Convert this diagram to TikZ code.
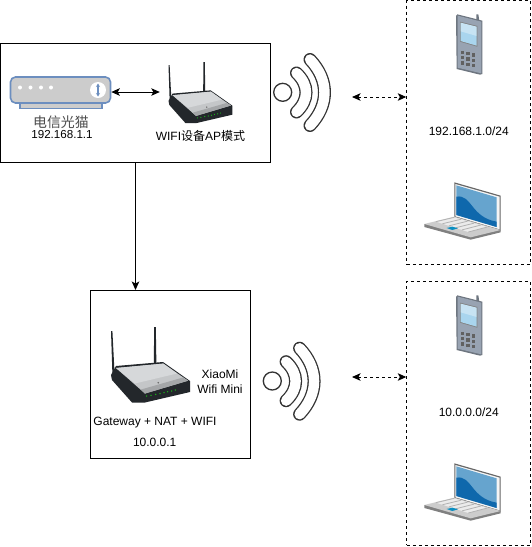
\documentclass[tikz,border=0pt]{standalone}
\usepackage{fontspec}
\setmainfont{Liberation Sans}
\newfontfamily\cjk{Noto Sans CJK SC}
\usetikzlibrary{arrows.meta}
\definecolor{modemline}{HTML}{6C8EBF}
\definecolor{modemfill}{HTML}{CCCCCC}
\definecolor{routerdark}{HTML}{23272B}
\definecolor{routertop}{HTML}{C4C6C8}
\definecolor{routerlight}{HTML}{D6D8DA}
\definecolor{routershade}{HTML}{A4A6A8}
\definecolor{wifiline}{HTML}{333333}
\definecolor{phonebody}{HTML}{98A3B2}
\definecolor{phonedark}{HTML}{6E7680}
\definecolor{screenlight}{HTML}{A9D5EE}
\definecolor{lapblue}{HTML}{66A4CE}
\definecolor{lapdeep}{HTML}{0F68AC}
\tikzset{
  framebox/.style={draw=black,line width=1pt,fill=white,inner sep=0pt},
  lanbox/.style={draw=black,line width=.9pt,dash pattern=on 3pt off 3pt,fill=white,inner sep=0pt},
  lbl/.style={font=\fontsize{12}{14}\selectfont,text=black,inner sep=0pt,align=center},
  place/.style={inner sep=0pt},
  solidlink/.style={draw=black,line width=1pt,-{Stealth[length=8.5pt,width=7.5pt,inset=2pt]}},
  bothlink/.style={draw=black,line width=1pt,{Stealth[length=8.5pt,width=7.5pt,inset=2pt]}-{Stealth[length=8.5pt,width=7.5pt,inset=2pt]}},
  lanlink/.style={draw=black,line width=1pt,dash pattern=on 3pt off 3pt,{Stealth[length=8.5pt,width=7.5pt,inset=2pt]}-{Stealth[length=8.5pt,width=7.5pt,inset=2pt]}},
  routerpic/.pic={
    \fill[routerdark] (0,4) -- (1.4,4) -- (3.6,47) -- (1.4,47) -- cycle;
    \fill[routerdark] (43.2,0) -- (44.8,0) -- (45.4,37) -- (42.8,37) -- cycle;
    \fill[routerdark] (0,48) -- (5,39) -- (52,35) -- (79,54) -- (79,65) -- (34,75.5) -- (21,75.5) -- (1,53) -- cycle;
    \fill[routertop] (5,41) -- (52.3,36.6) -- (77,53.7) -- (34,66.5) -- cycle;
    \fill[routerlight] (5,41) -- (52.3,36.6) -- (66,46.5) -- (24,56.5) -- cycle;
    \fill[routershade] (34,66.5) -- (77,53.7) -- (72,50.5) -- (30,62.5) -- cycle;
    \fill[black!60] (47.3,55.7) circle (.9);
    \foreach \lx/\ly in {35.7/69,40/68.3,44.7/67.3,49/66.7,53/65.7,56.7/64.7,60.7/64,64.3/63}
      \fill[green!70!black!90] (\lx,\ly) circle (.75);
  },
  phonepic/.pic={
    \fill[phonedark] (229,60) -- (229,43) -- (235,43) -- (238,62) -- cycle;
    \fill[phonedark] (172,43) -- (247,62) -- (247,222) -- (240,224) -- (170,207) -- (168,48) -- cycle;
    \fill[phonebody] (173,47) -- (244,65) -- (244,220) -- (173,203) -- cycle;
    \fill[black!50] (180,65) -- (232,78) -- (232,140) -- (180,125) -- cycle;
    \fill[screenlight] (182,68) -- (230,80) -- (230,137) -- (182,123) -- cycle;
    \fill[white,opacity=.35] (182,68) -- (230,80) -- (230,108) -- (182,94) -- cycle;
    \foreach \kx in {188,204,220}
      \foreach \ky in {157,173,189}
        \fill[black!62] ({\kx-5},{\ky+(\kx-188)*.25-5}) rectangle ++(10,10);
  },
  laptoppic/.pic={
    \fill[black!60] (163,547) -- (302,587) -- (302,692) -- (163,652) -- cycle;
    \fill[black!4] (166,552) -- (299,590) -- (299,688) -- (166,649) -- cycle;
    \fill[lapblue] (169,556) -- (290,592) -- (290,681) -- (169,645) -- cycle;
    \fill[lapdeep] (169,590) .. controls (216,582) and (212,652) .. (290,665) -- (290,681) -- (169,645) -- cycle;
    \fill[black!50] (73,672) -- (73,681) -- (212,719) -- (302,697) -- (302,690) -- cycle;
    \fill[black!20] (73,672) -- (163,650) -- (302,690) -- (212,712) -- cycle;
    \fill[black!8] (108,665) -- (163,652) -- (262,681) -- (205,696) -- cycle;
    \foreach \t in {0,.2,.4,.6,.8,1}
      \draw[black!30,line width=.8pt] ({108+\t*97},{665+\t*31}) -- ({163+\t*99},{652+\t*29});
    \fill[lapdeep!75!cyan] (140,684) -- (157,680) -- (174,685) -- (157,690) -- cycle;
  },
  wifipic/.pic={
    \draw[wifiline,line width=1.3pt,fill=white] (0,0) circle (9);
    \draw[wifiline,line width=13pt,line cap=round] (13.8,-19.3) .. controls (26.5,-7.3) and (26.5,7.7) .. (13.8,19.7);
    \draw[white,line width=10.4pt,line cap=round] (13.8,-19.3) .. controls (26.5,-7.3) and (26.5,7.7) .. (13.8,19.7);
    \draw[wifiline,line width=13pt,line cap=round] (27.3,-32.8) .. controls (46.6,-12.3) and (46.6,12.7) .. (27.3,33.2);
    \draw[white,line width=10.4pt,line cap=round] (27.3,-32.8) .. controls (46.6,-12.3) and (46.6,12.7) .. (27.3,33.2);
  }
}
\begin{document}
\begin{tikzpicture}[x=1pt,y=-1pt]
\useasboundingbox (0,0) rectangle (531,547);
\fill[white] (0,0) rectangle (531,547);

% frames
\node[framebox,minimum width=270pt,minimum height=119pt] (gatewaybox) at (135.5,102.5) {};
\node[framebox,minimum width=160pt,minimum height=168pt] (minibox) at (170,374.5) {};
\node[lanbox,minimum width=123.5pt,minimum height=264pt] (lanA) at (468.5,132.5) {};
\node[lanbox,minimum width=123.5pt,minimum height=264pt] (lanB) at (468.5,413) {};

% modem
\fill[modemfill,draw=modemline,line width=1.2pt] (20,102) rectangle (102,108.5);
\node[draw=modemline,line width=1.6pt,fill=modemfill,rounded corners=5pt,minimum width=100pt,minimum height=26pt,inner sep=0pt] (modem) at (60.5,90) {};
\foreach \dx in {20,30.5,41,51} \fill[white] (\dx,87.5) circle (2);
\fill[white] (98,90) circle (8);
\draw[modemline,line width=1.4pt,{Stealth[length=3.5pt,width=4pt]}-{Stealth[length=3.5pt,width=4pt]}] (98,83.5) -- (98,96.5);
\node[lbl,font=\fontsize{13.9}{16}\cjk,text=black!70] (modemname) at (61,122) {电信光猫};
\node[lbl,font=\fontsize{11.6}{14}\selectfont] (modemip) at (62,135) {192.168.1.1};

% routers
\node[place,minimum width=74pt,minimum height=60pt] (routerA) at (197,92) {};
\pic[scale=.81] at (168.5,62) {routerpic};
\node[lbl] (routerAname) at (200.5,136) {WIFI{\cjk 设备}AP{\cjk 模式}};
\pic at (111,327) {routerpic};
\node[lbl,align=center] (mininame) at (220,381.5) {XiaoMi\\[1pt]Wifi Mini};
\node[lbl] (minirole) at (155,422.7) {Gateway + NAT + WIFI};
\node[lbl] (miniip) at (154.7,442.7) {10.0.0.1};

% wifi
\pic at (282.7,92.3) {wifipic};
\pic at (272.3,381) {wifipic};

% lan A
\pic[scale=.33333] at (400,0) {phonepic};
\pic[scale=.33333] at (400,0) {laptoppic};
\node[lbl] (lanAnet) at (468.8,131.7) {192.168.1.0/24};
% lan B
\pic[scale=.33333] at (400,281) {phonepic};
\pic[scale=.33333] at (400,281) {laptoppic};
\node[lbl] (lanBnet) at (468.8,412.7) {10.0.0.0/24};

% connectors
\coordinate (linkA) at (352,97);
\coordinate (linkB) at (352,377);
\draw[bothlink] (modem.east |- routerA.west) -- (routerA.west);
\draw[solidlink] (gatewaybox.south) -- (gatewaybox.south |- minibox.north);
\draw[lanlink] (linkA) -- (linkA -| lanA.west);
\draw[lanlink] (linkB) -- (linkB -| lanB.west);
\end{tikzpicture}
\end{document}
